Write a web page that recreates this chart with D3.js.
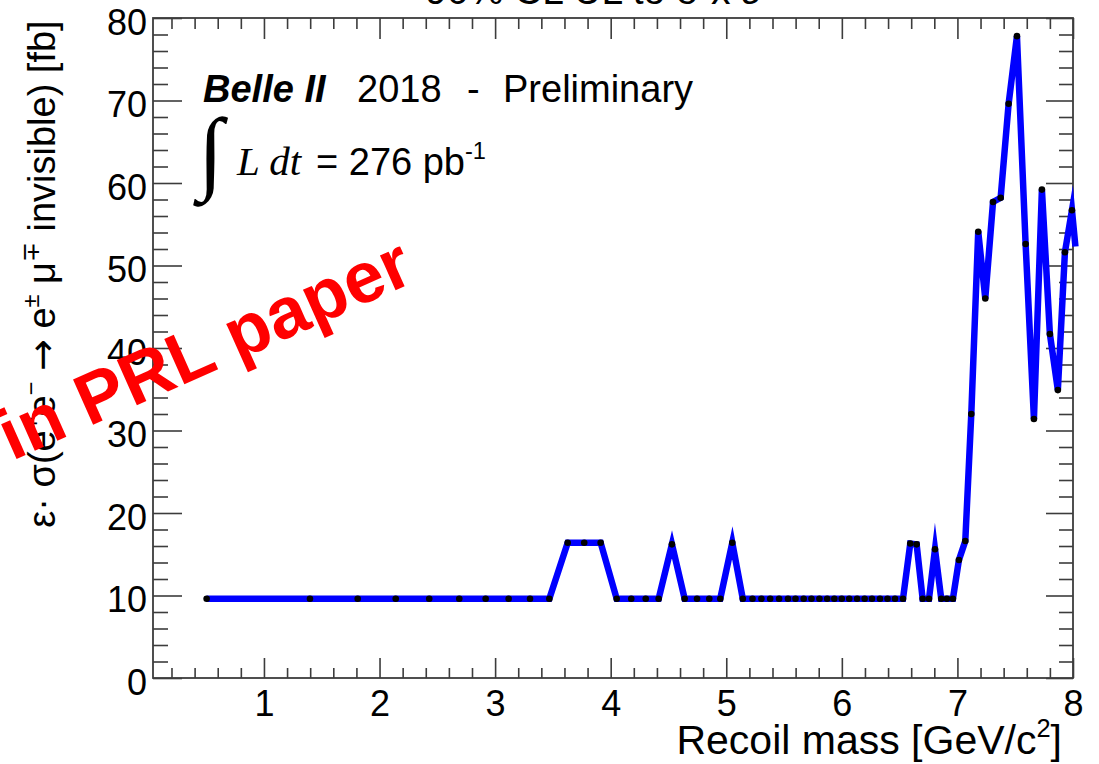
<!DOCTYPE html>
<html>
<head>
<meta charset="utf-8">
<script src="https://cdn.jsdelivr.net/npm/d3@7"></script>
<style>
  body { margin: 0; background: #fff; }
  svg text { fill: #000; }
</style>
</head>
<body>
<svg id="chart" width="1099" height="764" font-family="'Liberation Sans', Arial, Helvetica, sans-serif"></svg>
<script>
// Recoil-mass scan points [GeV/c^2]
const recoilMass = [
  0.504, 1.398, 1.811, 2.140, 2.430, 2.690, 2.918, 3.117, 3.302, 3.469,
  3.628, 3.771, 3.913, 4.052, 4.178, 4.303, 4.415, 4.530, 4.640, 4.747,
  4.853, 4.948, 5.052, 5.143, 5.227, 5.304, 5.380, 5.457, 5.534, 5.599,
  5.670, 5.737, 5.806, 5.873, 5.935, 5.999, 6.064, 6.132, 6.197, 6.261,
  6.330, 6.395, 6.460, 6.529, 6.592, 6.647, 6.699, 6.754, 6.806, 6.860,
  6.909, 6.961, 7.013, 7.068, 7.120, 7.180, 7.241, 7.308, 7.374, 7.443,
  7.515, 7.590, 7.662, 7.731, 7.800, 7.869, 7.930, 7.991, 8.021
];
// 90% CL upper limit on efficiency x cross section [fb]
const upperLimit = [
  9.6, 9.6, 9.6, 9.6, 9.6, 9.6, 9.6, 9.6, 9.6, 9.6,
  16.4, 16.4, 16.4, 9.6, 9.6, 9.6, 9.6, 16.2, 9.6, 9.6,
  9.6, 9.6, 16.4, 9.6, 9.6, 9.6, 9.6, 9.6, 9.6, 9.6,
  9.6, 9.6, 9.6, 9.6, 9.6, 9.6, 9.6, 9.6, 9.6, 9.6,
  9.6, 9.6, 9.6, 9.6, 16.3, 16.2, 9.6, 9.6, 15.6, 9.6,
  9.6, 9.6, 14.3, 16.6, 32.0, 54.1, 46.0, 57.7, 58.2, 69.6,
  77.8, 52.6, 31.4, 59.2, 41.7, 34.9, 51.6, 56.7, 52.3
];
const xTickLabels = [1, 2, 3, 4, 5, 6, 7, 8];
const yTickLabels = [0, 10, 20, 30, 40, 50, 60, 70, 80];

const svg = d3.select("#chart");
const frame = { left: 153, right: 1073, top: 18, bottom: 678 };
const axisColor = "#3c3c3c";
const serif = "'Liberation Serif', 'Times New Roman', serif";

const x = d3.scaleLinear().domain([0.04, 8]).range([frame.left, frame.right]);
const y = d3.scaleLinear().domain([0, 80]).range([frame.bottom, frame.top]);

const xMinor = d3.range(0.2, 8.0001, 0.2).filter(v => Math.abs(v - Math.round(v)) > 1e-6);
const yMinor = d3.range(2, 80, 2).filter(v => v % 10 !== 0);

function styleAxis(g) {
  g.select(".domain").remove();
  g.selectAll(".tick line").attr("stroke", axisColor).attr("stroke-width", 1.6);
}

// bottom axis: minor + major ticks, labels
svg.append("g").attr("transform", `translate(0,${frame.bottom})`)
  .call(d3.axisBottom(x).tickValues(xMinor).tickSizeInner(-10).tickSizeOuter(0).tickFormat(""))
  .call(styleAxis);
const gx = svg.append("g").attr("transform", `translate(0,${frame.bottom})`)
  .call(d3.axisBottom(x).tickValues(xTickLabels).tickSizeInner(-20).tickSizeOuter(0).tickPadding(12).tickFormat(d3.format("d")))
  .call(styleAxis);
gx.attr("font-family", null).attr("font-size", null);
gx.selectAll(".tick text").attr("font-size", 36).attr("fill", "#000");

// top axis ticks
svg.append("g").attr("transform", `translate(0,${frame.top})`)
  .call(d3.axisTop(x).tickValues(xMinor).tickSizeInner(-11).tickSizeOuter(0).tickFormat(""))
  .call(styleAxis);
svg.append("g").attr("transform", `translate(0,${frame.top})`)
  .call(d3.axisTop(x).tickValues(xTickLabels).tickSizeInner(-21).tickSizeOuter(0).tickFormat(""))
  .call(styleAxis);

// left axis
svg.append("g").attr("transform", `translate(${frame.left},0)`)
  .call(d3.axisLeft(y).tickValues(yMinor).tickSizeInner(-15).tickSizeOuter(0).tickFormat(""))
  .call(styleAxis);
const gy = svg.append("g").attr("transform", `translate(${frame.left},0)`)
  .call(d3.axisLeft(y).tickValues(yTickLabels).tickSizeInner(-29).tickSizeOuter(0).tickPadding(6).tickFormat(d3.format("d")))
  .call(styleAxis);
gy.attr("font-family", null).attr("font-size", null);
gy.selectAll(".tick text").attr("font-size", 36).attr("fill", "#000").attr("dy", "0.45em");

// right axis ticks
svg.append("g").attr("transform", `translate(${frame.right},0)`)
  .call(d3.axisRight(y).tickValues(yMinor).tickSizeInner(-14).tickSizeOuter(0).tickFormat(""))
  .call(styleAxis);
svg.append("g").attr("transform", `translate(${frame.right},0)`)
  .call(d3.axisRight(y).tickValues(yTickLabels).tickSizeInner(-27).tickSizeOuter(0).tickFormat(""))
  .call(styleAxis);

// frame
svg.append("rect")
  .attr("x", frame.left).attr("y", frame.top)
  .attr("width", frame.right - frame.left).attr("height", frame.bottom - frame.top)
  .attr("fill", "none").attr("stroke", axisColor).attr("stroke-width", 1.8);

// limit curve
const points = recoilMass.map((m, i) => ({ m, v: upperLimit[i] }));
const line = d3.line().x(d => x(d.m)).y(d => y(d.v));
svg.append("path")
  .datum(points)
  .attr("d", line)
  .attr("fill", "none")
  .attr("stroke", "#0000ff")
  .attr("stroke-width", 6.5)
  .attr("stroke-linejoin", "miter")
  .attr("stroke-miterlimit", 10);

svg.append("g").selectAll("circle")
  .data(points.filter(d => d.m <= 8))
  .join("circle")
  .attr("cx", d => x(d.m))
  .attr("cy", d => y(d.v))
  .attr("r", 3.3)
  .attr("fill", "#000");

// helper: text with superscripts, parts = [[text, isSup, fontFamily?], ...]
function richText(sel, parts, fs) {
  let raised = false;
  parts.forEach(([t, sup, fam]) => {
    const ts = sel.append("tspan").text(t);
    if (fam) ts.attr("font-family", fam);
    if (sup && !raised) { ts.attr("dy", -0.42 * fs).attr("font-size", 0.62 * fs); raised = true; }
    else if (sup) { ts.attr("font-size", 0.62 * fs); }
    else if (!sup && raised) { ts.attr("dy", 0.42 * fs); raised = false; }
  });
}

// title (partly above the canvas)
svg.append("text")
  .attr("x", 592).attr("y", 4)
  .attr("text-anchor", "middle")
  .attr("font-size", 39)
  .text("90% CL UL to σ x ε");

// x axis title
const xt = svg.append("text")
  .attr("x", 1062).attr("y", 754)
  .attr("text-anchor", "end")
  .attr("font-size", 41);
richText(xt, [["Recoil mass [GeV/c", false], ["2", true], ["]", false]], 41);

// y axis title
const yt = svg.append("text")
  .attr("transform", "translate(55,274) rotate(-90)")
  .attr("text-anchor", "middle")
  .attr("font-size", 38);
richText(yt, [
  ["ε· σ(e", false], ["+", true], ["e", false], ["−", true],
  [" ", false], ["→", false, "'DejaVu Sans', sans-serif"], [" e", false], ["±", true], [" μ", false], ["∓", true],
  [" invisible) [fb]", false]
], 38);

// experiment label
const lab = svg.append("text").attr("x", 203).attr("y", 102).attr("font-size", 38);
lab.append("tspan").attr("font-weight", "bold").attr("font-style", "italic").text("Belle II");
lab.append("tspan").attr("x", 357).text("2018");
lab.append("tspan").attr("x", 467).text("-");
lab.append("tspan").attr("x", 503).text("Preliminary");

// integrated luminosity
svg.append("text")
  .attr("x", 198).attr("y", 182)
  .attr("font-family", serif)
  .attr("font-size", 92)
  .text("∫");
svg.append("text")
  .attr("x", 237).attr("y", 175)
  .attr("font-family", serif)
  .attr("font-style", "italic")
  .attr("font-size", 41)
  .text("L dt");
const lum = svg.append("text").attr("x", 316).attr("y", 175).attr("font-size", 38);
richText(lum, [["= 276 pb", false], ["-1", true]], 38);

// overlay note
svg.append("text")
  .attr("transform", "translate(12,461) rotate(-24)")
  .attr("font-size", 72)
  .attr("font-weight", "bold")
  .style("fill", "#ff0000")
  .text("in PRL paper");
</script>
</body>
</html>
